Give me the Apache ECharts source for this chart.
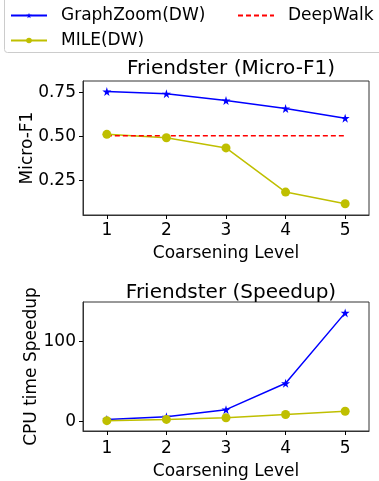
<!DOCTYPE html>
<html>
<head>
<meta charset="utf-8">
<script src="https://cdn.jsdelivr.net/npm/echarts@6/dist/echarts.min.js"></script>
<style>
html,body{margin:0;padding:0;background:#fff;}
#main{width:379px;height:481px;}
</style>
</head>
<body>
<div id="main"></div>
<script>
var levels = [1, 2, 3, 4, 5];
var graphZoomF1 = [0.754, 0.742, 0.703, 0.658, 0.603];
var mileF1 = [0.511, 0.492, 0.434, 0.183, 0.117];
var deepWalkF1 = [0.503, 0.503, 0.503, 0.503, 0.503];
var graphZoomSpeed = [2.8, 6, 15, 48, 136];
var mileSpeed = [1.2, 2.8, 4.8, 8.9, 13];
var f1Ticks = [0.25, 0.5, 0.75];
var speedTicks = [0, 100];

var FONT = 'DejaVu Sans';
var star = 'path://M50,0 L61,35 L98,35 L68,57 L79,91 L50,70 L21,91 L32,57 L2,35 L39,35 Z';

function pairs(ys){
	return levels.map(function(x, i){ return [x, ys[i]]; });
}

function xAxisOf(idx){
	return {
		type: 'value', gridIndex: idx, min: 0.6, max: 5.4,
		name: 'Coarsening Level', nameLocation: 'middle', nameGap: idx === 0 ? 30 : 32,
		nameMoveOverlap: false,
		nameTextStyle: {fontFamily: FONT, fontSize: 17, color: '#000'},
		axisLine: {show: true, onZero: false, lineStyle: {color: '#333', width: 1}},
		axisTick: {show: true, length: 4, customValues: levels, lineStyle: {color: '#000'}},
		axisLabel: {fontFamily: FONT, fontSize: 17, color: '#000', margin: idx === 0 ? 7 : 9, customValues: levels},
		splitLine: {show: false}
	};
}

function yAxisOf(idx, min, max, ticks, name, gap){
	return {
		type: 'value', gridIndex: idx, min: min, max: max,
		name: name, nameLocation: 'middle', nameGap: gap, nameMoveOverlap: false,
		nameTextStyle: {fontFamily: FONT, fontSize: 17, color: '#000'},
		axisLine: {show: true, lineStyle: {color: '#333', width: 1}},
		axisTick: {show: true, length: 4, customValues: ticks, lineStyle: {color: '#000'}},
		axisLabel: {fontFamily: FONT, fontSize: 17, color: '#000', margin: 7, customValues: ticks,
			formatter: function(v){ return idx === 0 ? v.toFixed(2) : String(v); }},
		splitLine: {show: false}
	};
}

var legendText = {fontFamily: FONT, fontSize: 17, color: '#000', padding: [0, 0, 0, 9]};

var myChart = echarts.init(document.getElementById('main'));

var option = {
	animation: false,
	backgroundColor: '#fff',
	title: [
		{text: 'Friendster (Micro-F1)', left: 226, top: 54, textAlign: 'center',
			textStyle: {fontFamily: FONT, fontSize: 20, fontWeight: 'normal', color: '#000'}},
		{text: 'Friendster (Speedup)', left: 226, top: 278, textAlign: 'center',
			textStyle: {fontFamily: FONT, fontSize: 20, fontWeight: 'normal', color: '#000'}}
	],
	graphic: [{
		type: 'rect', left: 4, top: -6,
		shape: {width: 390, height: 58, r: 3},
		style: {fill: '#fff', stroke: '#ccc', lineWidth: 1}
	}],
	legend: [
		{data: ['GraphZoom(DW)', 'MILE(DW)'], orient: 'vertical', left: 5, top: 2,
			itemWidth: 36, itemHeight: 7, itemGap: 8, z: 10, textStyle: legendText},
		{data: ['DeepWalk'], orient: 'vertical', left: 232, top: 2,
			itemWidth: 36, itemHeight: 7, z: 10, textStyle: legendText,
			itemStyle: {opacity: 0}}
	],
	grid: [
		{left: 83, right: 10, top: 81, height: 134, show: true, borderColor: '#333', borderWidth: 1},
		{left: 83, right: 10, top: 302, height: 134, show: true, borderColor: '#333', borderWidth: 1}
	],
	xAxis: [xAxisOf(0), xAxisOf(1)],
	yAxis: [
		yAxisOf(0, 0.053, 0.814, f1Ticks, 'Micro-F1', 47),
		yAxisOf(1, -11.7, 149.6, speedTicks, 'CPU time Speedup', 43)
	],
	series: [
		{name: 'GraphZoom(DW)', type: 'line', xAxisIndex: 0, yAxisIndex: 0, data: pairs(graphZoomF1),
			symbol: star, symbolSize: 9, color: '#0000ff', lineStyle: {width: 1.5}},
		{name: 'MILE(DW)', type: 'line', xAxisIndex: 0, yAxisIndex: 0, data: pairs(mileF1),
			symbol: 'circle', symbolSize: 9, color: '#bfbf00', lineStyle: {width: 1.5}},
		{name: 'DeepWalk', type: 'line', xAxisIndex: 0, yAxisIndex: 0, data: pairs(deepWalkF1),
			symbol: 'none', color: '#ff0000', lineStyle: {width: 1.5, type: [5, 3]}},
		{name: 'GraphZoom(DW)', type: 'line', xAxisIndex: 1, yAxisIndex: 1, data: pairs(graphZoomSpeed),
			symbol: star, symbolSize: 9, color: '#0000ff', lineStyle: {width: 1.5}},
		{name: 'MILE(DW)', type: 'line', xAxisIndex: 1, yAxisIndex: 1, data: pairs(mileSpeed),
			symbol: 'circle', symbolSize: 9, color: '#bfbf00', lineStyle: {width: 1.5}}
	]
};

myChart.setOption(option);
</script>
</body>
</html>
